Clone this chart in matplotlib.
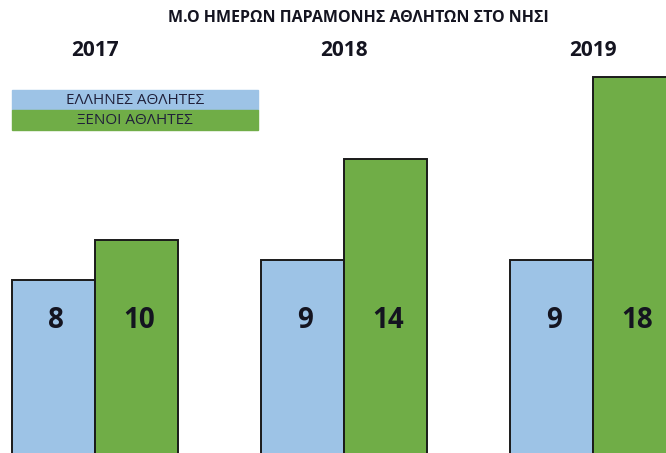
import numpy as np
import matplotlib.pyplot as plt
from matplotlib.patches import Rectangle
import matplotlib.transforms as mtransforms

plt.rcParams['font.family'] = ['Open Sans', 'DejaVu Sans']

# data
years = ['2017', '2018', '2019']
greek = [8, 9, 9]
foreign = [10, 14, 18]
series_names = ['ΕΛΛΗΝΕΣ ΑΘΛΗΤΕΣ', 'ΞΕΝΟΙ ΑΘΛΗΤΕΣ']
title = 'Μ.Ο ΗΜΕΡΩΝ ΠΑΡΑΜΟΝΗΣ ΑΘΛΗΤΩΝ ΣΤΟ ΝΗΣΙ'

blue = '#9dc3e6'
green = '#70ad47'
txt = '#141420'

fig = plt.figure(figsize=(6.66, 4.53), dpi=100)
ax = fig.add_axes([0, 0, 1, 1])

x = np.arange(len(years))
w = 0.333
base = -1.0  # bars run off the bottom edge like in the source picture
ax.bar(x - w / 2, np.array(greek) - base, w, bottom=base, color=blue,
       edgecolor='#1a1a1a', linewidth=1.4)
ax.bar(x + w / 2, np.array(foreign) - base, w, bottom=base, color=green,
       edgecolor='#1a1a1a', linewidth=1.4)

ax.set_xlim(-0.382, 2.293)
ax.set_ylim(-0.49, 21.8)
ax.axis('off')

# value labels, all on one line inside the bars
trans = mtransforms.blended_transform_factory(ax.transData, ax.transAxes)
for i in range(len(years)):
    ax.text(x[i] - w / 2 + 0.01, 0.293, str(greek[i]), transform=trans,
            ha='center', va='center', fontsize=20, fontweight='bold', color=txt)
    ax.text(x[i] + w / 2 + 0.01, 0.293, str(foreign[i]), transform=trans,
            ha='center', va='center', fontsize=20, fontweight='bold', color=txt)
    ax.text(x[i], 1 - 51 / 453, years[i], transform=trans, ha='center',
            va='center', fontsize=15, fontweight='bold', color=txt)

fig.text(358 / 666, 1 - 18 / 453, title, ha='center', va='center',
         fontsize=11.5, fontweight='bold', color=txt)

# legend boxes top-left
for k, (name, col) in enumerate(zip(series_names, [blue, green])):
    y0 = 1 - (110 + 20 * k) / 453
    fig.patches.append(Rectangle((12 / 666, y0), 246 / 666, 20 / 453,
                                 transform=fig.transFigure, color=col, zorder=0))
    fig.text(135 / 666, y0 + 10 / 453, name, ha='center', va='center',
             fontsize=11, color='#20203a')

fig.savefig('out.png', dpi=100, facecolor='white')
